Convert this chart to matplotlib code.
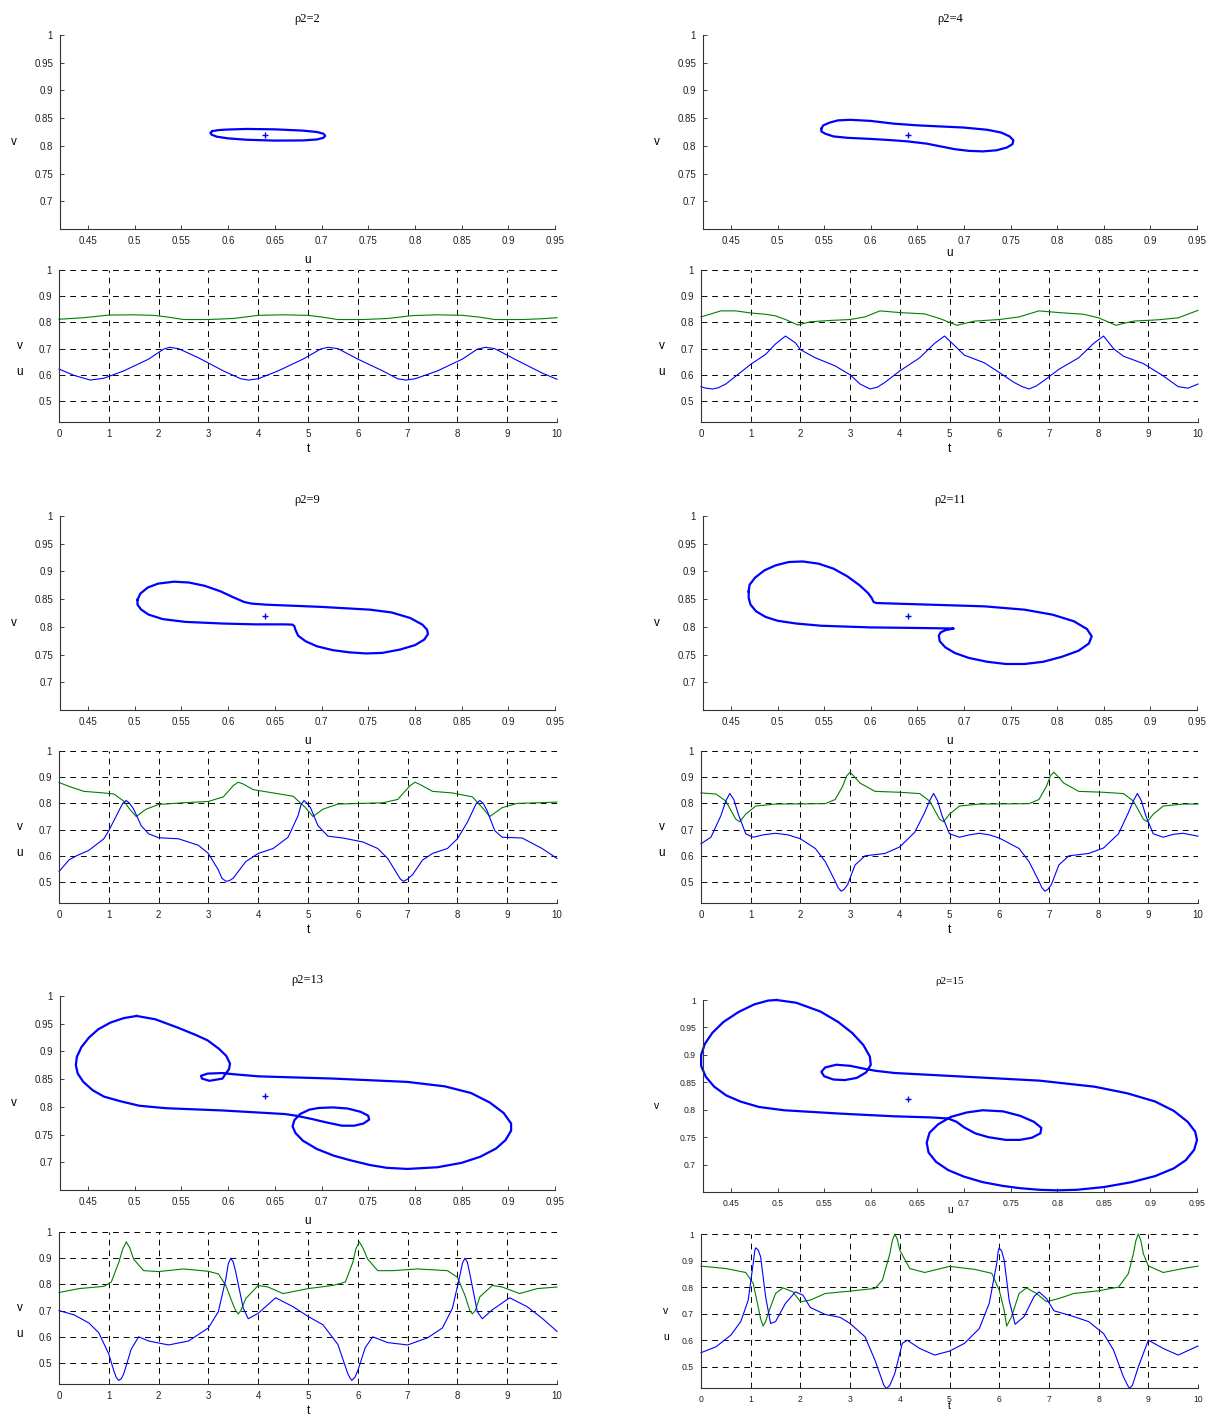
import matplotlib
matplotlib.use('Agg')
import matplotlib.pyplot as plt

W, H = 1211, 1416

rho = [2, 4, 9, 11, 13, 15]

# ---- rho2 = 2 ----
tu_2 = [0, 0.3, 0.63, 0.9, 1.3, 1.8, 2.1, 2.22, 2.4, 2.8, 3.3, 3.65, 3.8, 4.0, 4.4, 4.9, 5.25, 5.4, 5.6, 6.0,
        6.5, 6.8, 6.97, 7.15, 7.6, 8.1, 8.4, 8.57, 8.75, 9.2, 9.7, 10]
u_2 = [0.622, 0.598, 0.580, 0.587, 0.615, 0.660, 0.698, 0.705, 0.700, 0.665, 0.615, 0.585, 0.580, 0.585, 0.615,
       0.660, 0.698, 0.705, 0.700, 0.660, 0.615, 0.585, 0.580, 0.585, 0.615, 0.660, 0.698, 0.705, 0.700, 0.655,
       0.607, 0.583]
tv_2 = [0, 0.5, 1.0, 1.5, 1.9, 2.2, 2.5, 3.0, 3.5, 4.0, 4.5, 5.0, 5.3, 5.6, 6.1, 6.6, 7.1, 7.6, 8.1, 8.45,
        8.75, 9.3, 9.7, 10]
v_2 = [0.812, 0.818, 0.828, 0.829, 0.827, 0.820, 0.811, 0.811, 0.815, 0.827, 0.829, 0.827, 0.820, 0.811, 0.811,
       0.815, 0.826, 0.829, 0.827, 0.820, 0.811, 0.811, 0.814, 0.818]
ph_2 = [(0.583, 0.8265), (0.59, 0.8285), (0.60, 0.8295), (0.62, 0.8305), (0.65, 0.8298), (0.68, 0.8275),
        (0.695, 0.825), (0.702, 0.822), (0.704, 0.818), (0.702, 0.8145), (0.695, 0.8115), (0.68, 0.8098),
        (0.65, 0.8095), (0.62, 0.811), (0.60, 0.8135), (0.588, 0.8165), (0.5825, 0.820), (0.581, 0.8235),
        (0.583, 0.8265)]

# ---- rho2 = 4 ----
tu_4 = [0, 0.1, 0.24, 0.35, 0.5, 0.8, 1.0, 1.3, 1.5, 1.7, 1.9, 2.0, 2.3, 2.7, 3.0, 3.2, 3.4, 3.55, 3.7, 4.0,
        4.4, 4.7, 4.9, 5.1, 5.3, 5.7, 6.0, 6.3, 6.45, 6.6, 6.75, 6.9, 7.2, 7.6, 7.9, 8.1, 8.3, 8.5, 8.9, 9.3,
        9.6, 9.8, 10]
u_4 = [0.555, 0.549, 0.546, 0.551, 0.565, 0.610, 0.640, 0.678, 0.718, 0.748, 0.722, 0.696, 0.665, 0.634, 0.600,
       0.565, 0.546, 0.553, 0.571, 0.615, 0.665, 0.720, 0.748, 0.712, 0.675, 0.646, 0.609, 0.571, 0.556, 0.546,
       0.558, 0.578, 0.621, 0.665, 0.720, 0.748, 0.700, 0.671, 0.643, 0.596, 0.555, 0.549, 0.565]
tv_4 = [0, 0.4, 0.7, 1.0, 1.3, 1.5, 1.7, 1.95, 2.2, 2.6, 3.0, 3.3, 3.6, 4.0, 4.5, 4.8, 5.15, 5.5, 6.0, 6.4,
        6.8, 7.2, 7.7, 8.0, 8.35, 8.7, 9.2, 9.6, 10]
v_4 = [0.821, 0.844, 0.844, 0.836, 0.831, 0.825, 0.811, 0.790, 0.8025, 0.8075, 0.811, 0.821, 0.844, 0.8375,
       0.8325, 0.815, 0.789, 0.805, 0.811, 0.821, 0.844, 0.8375, 0.831, 0.8175, 0.789, 0.805, 0.810, 0.8175, 0.846]
ph_4 = [(0.547, 0.831), (0.549, 0.837), (0.556, 0.842), (0.565, 0.846), (0.578, 0.847), (0.60, 0.845),
        (0.625, 0.840), (0.65, 0.837), (0.70, 0.833), (0.725, 0.829), (0.740, 0.824), (0.749, 0.817),
        (0.753, 0.810), (0.752, 0.803), (0.746, 0.797), (0.735, 0.792), (0.72, 0.790), (0.705, 0.791),
        (0.69, 0.794), (0.675, 0.799), (0.66, 0.804), (0.64, 0.808), (0.62, 0.8105), (0.60, 0.8125),
        (0.575, 0.8145), (0.56, 0.817), (0.551, 0.822), (0.547, 0.826), (0.547, 0.831)]

# ---- rho2 = 9 ----
tu_9 = [0, 0.2, 0.35, 0.6, 0.9, 1.0, 1.2, 1.28, 1.35, 1.42, 1.5, 1.65, 1.8, 2.0, 2.4, 2.8, 3.0, 3.2, 3.27, 3.35,
        3.42, 3.5, 3.75, 4.0, 4.3, 4.6, 4.8, 4.86, 4.92, 4.98, 5.05, 5.2, 5.4, 5.7, 6.1, 6.4, 6.6, 6.8, 6.86,
        6.92, 6.99, 7.1, 7.3, 7.5, 7.8, 8.0, 8.2, 8.38, 8.45, 8.52, 8.6, 8.75, 8.9, 9.3, 9.7, 10]
u_9 = [0.540, 0.584, 0.600, 0.621, 0.665, 0.696, 0.771, 0.800, 0.811, 0.800, 0.778, 0.715, 0.684, 0.669, 0.665,
       0.640, 0.609, 0.546, 0.515, 0.503, 0.505, 0.515, 0.578, 0.609, 0.628, 0.671, 0.753, 0.795, 0.811, 0.800,
       0.784, 0.715, 0.675, 0.668, 0.653, 0.628, 0.590, 0.528, 0.510, 0.503, 0.510, 0.528, 0.584, 0.609, 0.628,
       0.665, 0.728, 0.800, 0.811, 0.800, 0.771, 0.696, 0.671, 0.668, 0.628, 0.590]
tv_9 = [0, 0.2, 0.5, 0.9, 1.1, 1.3, 1.42, 1.55, 1.75, 2.0, 2.5, 3.0, 3.3, 3.5, 3.6, 3.7, 3.9, 4.3, 4.7, 4.95,
        5.1, 5.3, 5.6, 6.5, 6.8, 7.05, 7.15, 7.25, 7.5, 7.9, 8.3, 8.5, 8.65, 8.9, 9.2, 10]
v_9 = [0.880, 0.865, 0.846, 0.840, 0.836, 0.809, 0.778, 0.750, 0.778, 0.796, 0.8025, 0.8075, 0.825, 0.868,
       0.881, 0.874, 0.8525, 0.840, 0.8275, 0.784, 0.750, 0.778, 0.7975, 0.8025, 0.815, 0.868, 0.881, 0.872,
       0.846, 0.840, 0.825, 0.784, 0.750, 0.784, 0.800, 0.805]
ph_9 = [(0.503, 0.849), (0.506, 0.860), (0.514, 0.871), (0.525, 0.878), (0.542, 0.8815), (0.558, 0.880),
        (0.575, 0.874), (0.592, 0.864), (0.606, 0.853), (0.617, 0.845), (0.625, 0.842), (0.641, 0.840),
        (0.70, 0.836), (0.752, 0.831), (0.775, 0.826), (0.795, 0.816), (0.808, 0.804), (0.813, 0.795),
        (0.814, 0.787), (0.81, 0.777), (0.80, 0.767), (0.784, 0.759), (0.765, 0.753), (0.748, 0.752),
        (0.73, 0.754), (0.712, 0.758), (0.695, 0.765), (0.683, 0.774), (0.675, 0.784), (0.672, 0.795),
        (0.671, 0.801), (0.669, 0.804), (0.66, 0.8045), (0.629, 0.8045), (0.594, 0.806), (0.554, 0.809),
        (0.53, 0.814), (0.515, 0.822), (0.507, 0.831), (0.503, 0.840), (0.503, 0.849)]

# ---- rho2 = 11 ----
tu_11 = [0, 0.2, 0.4, 0.5, 0.58, 0.66, 0.75, 0.9, 1.05, 1.25, 1.5, 1.75, 2.0, 2.3, 2.5, 2.7, 2.76, 2.82, 2.88,
         2.95, 3.1, 3.3, 3.7, 4.0, 4.3, 4.5, 4.6, 4.68, 4.76, 4.85, 5.0, 5.2, 5.4, 5.6, 5.8, 6.0, 6.4, 6.6, 6.8,
         6.86, 6.92, 6.98, 7.05, 7.2, 7.4, 7.8, 8.1, 8.4, 8.6, 8.7, 8.78, 8.86, 8.95, 9.1, 9.3, 9.5, 9.7, 10]
u_11 = [0.646, 0.671, 0.753, 0.810, 0.838, 0.815, 0.759, 0.684, 0.671, 0.680, 0.686, 0.680, 0.665, 0.628, 0.578,
        0.503, 0.478, 0.465, 0.472, 0.490, 0.565, 0.600, 0.609, 0.634, 0.690, 0.765, 0.810, 0.838, 0.810, 0.753,
        0.684, 0.671, 0.680, 0.686, 0.680, 0.668, 0.628, 0.578, 0.503, 0.478, 0.465, 0.472, 0.490, 0.565, 0.600,
        0.609, 0.630, 0.684, 0.765, 0.810, 0.838, 0.810, 0.753, 0.684, 0.671, 0.682, 0.686, 0.675]
tv_11 = [0, 0.3, 0.5, 0.7, 0.78, 0.9, 1.1, 1.5, 2.5, 2.7, 2.85, 2.93, 3.0, 3.07, 3.2, 3.5, 4.0, 4.4, 4.6, 4.8,
         4.88, 5.0, 5.2, 5.6, 6.6, 6.8, 6.95, 7.03, 7.1, 7.17, 7.3, 7.6, 8.1, 8.5, 8.7, 8.9, 8.98, 9.1, 9.3,
         9.7, 10]
v_11 = [0.840, 0.836, 0.809, 0.740, 0.730, 0.759, 0.790, 0.7975, 0.799, 0.815, 0.865, 0.905, 0.919, 0.905,
        0.8775, 0.846, 0.8425, 0.8375, 0.809, 0.740, 0.730, 0.759, 0.790, 0.7975, 0.799, 0.815, 0.865, 0.905,
        0.919, 0.905, 0.8775, 0.846, 0.8425, 0.8375, 0.809, 0.740, 0.730, 0.759, 0.790, 0.7975, 0.7975]
ph_11 = [(0.469, 0.864), (0.470, 0.876), (0.476, 0.889), (0.486, 0.902), (0.498, 0.911), (0.512, 0.917),
         (0.527, 0.918), (0.544, 0.914), (0.560, 0.905), (0.575, 0.891), (0.588, 0.875), (0.597, 0.861),
         (0.601, 0.852), (0.603, 0.845), (0.606, 0.843), (0.625, 0.842), (0.664, 0.840), (0.722, 0.837),
         (0.765, 0.831), (0.795, 0.822), (0.818, 0.810), (0.832, 0.796), (0.837, 0.783), (0.834, 0.770),
         (0.823, 0.757), (0.805, 0.746), (0.785, 0.737), (0.765, 0.733), (0.745, 0.733), (0.725, 0.737),
         (0.705, 0.744), (0.69, 0.753), (0.68, 0.763), (0.674, 0.774), (0.673, 0.784), (0.675, 0.790),
         (0.680, 0.794), (0.689, 0.797), (0.65, 0.798), (0.60, 0.799), (0.547, 0.802), (0.52, 0.806),
         (0.50, 0.811), (0.487, 0.818), (0.477, 0.828), (0.471, 0.840), (0.469, 0.852), (0.469, 0.864)]

# ---- rho2 = 13 ----
tu_13 = [0, 0.3, 0.6, 0.8, 1.0, 1.1, 1.15, 1.2, 1.25, 1.3, 1.45, 1.6, 1.8, 2.2, 2.6, 3.0, 3.2, 3.35, 3.4, 3.45,
         3.5, 3.55, 3.7, 3.8, 4.0, 4.35, 4.7, 5.0, 5.3, 5.6, 5.8, 5.84, 5.88, 5.94, 6.0, 6.15, 6.3, 6.6, 7.0,
         7.4, 7.7, 7.9, 8.05, 8.1, 8.15, 8.2, 8.25, 8.4, 8.5, 8.7, 9.05, 9.4, 9.7, 10]
u_13 = [0.700, 0.684, 0.653, 0.615, 0.534, 0.471, 0.445, 0.434, 0.440, 0.459, 0.553, 0.600, 0.584, 0.569, 0.584,
        0.634, 0.696, 0.821, 0.880, 0.900, 0.885, 0.846, 0.709, 0.669, 0.690, 0.749, 0.715, 0.678, 0.646, 0.571,
        0.459, 0.444, 0.434, 0.445, 0.471, 0.559, 0.600, 0.578, 0.569, 0.596, 0.634, 0.709, 0.834, 0.880, 0.900,
        0.885, 0.840, 0.696, 0.669, 0.703, 0.749, 0.715, 0.671, 0.621]
tv_13 = [0, 0.4, 0.9, 1.05, 1.2, 1.28, 1.35, 1.42, 1.5, 1.7, 2.0, 2.5, 3.0, 3.2, 3.35, 3.5, 3.55, 3.6, 3.65,
         3.75, 4.0, 4.2, 4.5, 5.0, 5.5, 5.75, 5.9, 5.96, 6.03, 6.1, 6.2, 6.4, 6.7, 7.2, 7.8, 8.0, 8.15, 8.25,
         8.3, 8.36, 8.45, 8.7, 8.9, 9.25, 9.6, 10]
v_13 = [0.769, 0.784, 0.7925, 0.809, 0.884, 0.935, 0.9625, 0.940, 0.896, 0.8525, 0.849, 0.859, 0.850, 0.840,
        0.796, 0.721, 0.700, 0.6875, 0.700, 0.746, 0.796, 0.790, 0.765, 0.784, 0.796, 0.809, 0.884, 0.935,
        0.9625, 0.940, 0.896, 0.8525, 0.8525, 0.859, 0.8525, 0.8275, 0.759, 0.700, 0.6875, 0.700, 0.7525,
        0.796, 0.790, 0.765, 0.784, 0.790]
ph_13 = [(0.502, 0.964), (0.522, 0.958), (0.546, 0.943), (0.565, 0.930), (0.578, 0.920), (0.590, 0.905),
         (0.598, 0.892), (0.602, 0.878), (0.601, 0.868), (0.597, 0.859), (0.594, 0.851), (0.58, 0.847),
         (0.572, 0.851), (0.571, 0.856), (0.578, 0.860), (0.594, 0.861), (0.605, 0.859), (0.633, 0.855),
         (0.713, 0.851), (0.792, 0.845), (0.832, 0.837), (0.860, 0.825), (0.880, 0.808), (0.895, 0.789),
         (0.903, 0.770), (0.903, 0.757), (0.897, 0.740), (0.887, 0.725), (0.870, 0.710), (0.850, 0.699),
         (0.824, 0.691), (0.792, 0.688), (0.770, 0.690), (0.752, 0.695), (0.730, 0.704), (0.713, 0.712),
         (0.695, 0.724), (0.680, 0.739), (0.672, 0.753), (0.669, 0.765), (0.671, 0.776), (0.677, 0.787),
         (0.687, 0.795), (0.697, 0.798), (0.712, 0.799), (0.728, 0.797), (0.742, 0.791), (0.750, 0.784),
         (0.751, 0.777), (0.745, 0.770), (0.735, 0.766), (0.722, 0.766), (0.705, 0.772), (0.690, 0.778),
         (0.673, 0.784), (0.661, 0.787), (0.594, 0.7935), (0.534, 0.7975), (0.505, 0.802), (0.485, 0.810),
         (0.467, 0.8185), (0.455, 0.830), (0.445, 0.845), (0.439, 0.860), (0.437, 0.875), (0.438, 0.890),
         (0.443, 0.908), (0.451, 0.925), (0.461, 0.940), (0.474, 0.952), (0.488, 0.960), (0.502, 0.964)]

# ---- rho2 = 15 ----
tu_15 = [0, 0.3, 0.6, 0.8, 0.95, 1.05, 1.08, 1.1, 1.15, 1.2, 1.3, 1.4, 1.5, 1.7, 1.9, 2.05, 2.2, 2.5, 2.8, 3.0,
         3.3, 3.5, 3.68, 3.73, 3.8, 3.9, 4.05, 4.15, 4.4, 4.7, 5.0, 5.3, 5.6, 5.8, 5.95, 5.98, 6.0, 6.05, 6.1,
         6.2, 6.32, 6.5, 6.7, 6.8, 6.95, 7.1, 7.5, 7.8, 8.1, 8.3, 8.5, 8.57, 8.62, 8.68, 8.8, 9.0, 9.3, 9.6, 10]
u_15 = [0.553, 0.575, 0.619, 0.670, 0.751, 0.889, 0.935, 0.948, 0.940, 0.914, 0.764, 0.663, 0.670, 0.739, 0.782,
        0.770, 0.723, 0.697, 0.686, 0.663, 0.613, 0.525, 0.430, 0.418, 0.430, 0.475, 0.588, 0.600, 0.569, 0.544,
        0.559, 0.588, 0.644, 0.739, 0.889, 0.935, 0.948, 0.935, 0.902, 0.751, 0.660, 0.689, 0.764, 0.782, 0.757,
        0.711, 0.689, 0.670, 0.625, 0.563, 0.462, 0.435, 0.418, 0.430, 0.500, 0.600, 0.569, 0.544, 0.578]
tv_15 = [0, 0.5, 0.9, 1.05, 1.15, 1.2, 1.25, 1.3, 1.35, 1.5, 1.65, 1.85, 2.0, 2.2, 2.5, 3.0, 3.5, 3.65, 3.8,
         3.85, 3.9, 3.95, 4.0, 4.2, 4.5, 5.0, 5.5, 5.85, 6.0, 6.1, 6.15, 6.25, 6.4, 6.55, 6.75, 6.95, 7.2, 7.5,
         8.0, 8.4, 8.6, 8.7, 8.75, 8.8, 8.85, 8.9, 9.0, 9.3, 9.7, 10]
v_15 = [0.879, 0.870, 0.855, 0.814, 0.726, 0.680, 0.653, 0.670, 0.700, 0.776, 0.797, 0.782, 0.745, 0.751, 0.776,
        0.785, 0.795, 0.826, 0.926, 0.975, 1.0, 0.980, 0.939, 0.870, 0.855, 0.878, 0.867, 0.852, 0.789, 0.713,
        0.653, 0.689, 0.776, 0.797, 0.776, 0.745, 0.757, 0.776, 0.786, 0.800, 0.851, 0.926, 0.975, 1.0, 0.975,
        0.926, 0.880, 0.855, 0.870, 0.879]
ph_15 = [(0.499, 1.0), (0.52, 0.995), (0.546, 0.979), (0.565, 0.960), (0.580, 0.940), (0.592, 0.918),
         (0.599, 0.897), (0.600, 0.882), (0.595, 0.868), (0.585, 0.858), (0.572, 0.854), (0.560, 0.855),
         (0.550, 0.861), (0.547, 0.869), (0.551, 0.877), (0.563, 0.882), (0.578, 0.880), (0.592, 0.875),
         (0.605, 0.871), (0.625, 0.867), (0.703, 0.860), (0.781, 0.853), (0.840, 0.842), (0.875, 0.830),
         (0.905, 0.815), (0.925, 0.798), (0.940, 0.778), (0.948, 0.760), (0.950, 0.745), (0.947, 0.727),
         (0.938, 0.708), (0.925, 0.693), (0.905, 0.679), (0.880, 0.668), (0.850, 0.659), (0.821, 0.654),
         (0.800, 0.653), (0.781, 0.654), (0.760, 0.657), (0.742, 0.661), (0.720, 0.668), (0.700, 0.678),
         (0.683, 0.690), (0.670, 0.705), (0.662, 0.722), (0.660, 0.740), (0.663, 0.758), (0.672, 0.773),
         (0.686, 0.787), (0.703, 0.795), (0.720, 0.799), (0.742, 0.797), (0.760, 0.789), (0.775, 0.778),
         (0.783, 0.767), (0.782, 0.757), (0.773, 0.749), (0.760, 0.745), (0.745, 0.745), (0.726, 0.750),
         (0.712, 0.757), (0.700, 0.768), (0.692, 0.778), (0.683, 0.784), (0.664, 0.786), (0.625, 0.788),
         (0.566, 0.793), (0.507, 0.799), (0.480, 0.805), (0.460, 0.815), (0.445, 0.826), (0.432, 0.842),
         (0.423, 0.860), (0.418, 0.880), (0.418, 0.900), (0.422, 0.920), (0.430, 0.940), (0.442, 0.960),
         (0.458, 0.978), (0.475, 0.992), (0.490, 0.999), (0.499, 1.0)]

eq_u, eq_v = 0.64, 0.82

series = {
    2: (tu_2, u_2, tv_2, v_2, ph_2),
    4: (tu_4, u_4, tv_4, v_4, ph_4),
    9: (tu_9, u_9, tv_9, v_9, ph_9),
    11: (tu_11, u_11, tv_11, v_11, ph_11),
    13: (tu_13, u_13, tv_13, v_13, ph_13),
    15: (tu_15, u_15, tv_15, v_15, ph_15),
}

phase_xt = [0.45, 0.5, 0.55, 0.6, 0.65, 0.7, 0.75, 0.8, 0.85, 0.9, 0.95]
phase_yt = [0.7, 0.75, 0.8, 0.85, 0.9, 0.95, 1.0]
time_xt = list(range(11))
time_yt = [0.5, 0.6, 0.7, 0.8, 0.9, 1.0]

BLUE = '#0000ff'
GREEN = '#008000'
SANS = 'Liberation Sans'
SERIF = 'Liberation Serif'

fig = plt.figure(figsize=(W / 100, H / 100), dpi=100)


def px_axes(x0, y0, x1, y1):
    return fig.add_axes([x0 / W, 1 - y1 / H, (x1 - x0) / W, (y1 - y0) / H])


def px_text(x, y, s, size=8.5, family=SANS):
    fig.text(x / W, 1 - y / H, s, ha='center', va='center', fontsize=size, family=family)


def style(ax, fs):
    for s in ['top', 'right']:
        ax.spines[s].set_visible(False)
    for s in ['left', 'bottom']:
        ax.spines[s].set_linewidth(0.8)
        ax.spines[s].set_color('#333333')
    ax.tick_params(direction='in', length=3, width=0.6, labelsize=fs, pad=5, colors='#222222')
    for lab in ax.get_xticklabels() + ax.get_yticklabels():
        lab.set_family(SANS)


def fmt(v):
    return f'{v:g}'


# layout, in pixels of the reference image
col_phase_x = [(60, 555), (703, 1197)]
col_time_x = [(59, 557), (701, 1198)]
row_phase_y = [(35, 229), (516, 710), (996, 1190)]
row_time_y = [(270, 422), (751, 903), (1232, 1384)]

for i, r in enumerate(rho):
    row, col = divmod(i, 2)
    tu, u, tv, v, ph = series[r]
    pu = [p[0] for p in ph]
    pv = [p[1] for p in ph]
    last = (row == 2 and col == 1)
    fs = 6.2 if last else 7
    ls = 7.5 if last else 8.5

    # phase portrait
    px0, px1 = col_phase_x[col]
    py0, py1 = (1000, 1192) if last else row_phase_y[row]
    ax = px_axes(px0, py0, px1, py1)
    ax.plot(pu, pv, color=BLUE, lw=1.6, clip_on=False)
    ax.plot([eq_u], [eq_v], marker='+', color=BLUE, ms=5, mew=1.0)
    ax.set_xlim(0.42, 0.95)
    ax.set_ylim(0.65, 1.0)
    ax.set_xticks(phase_xt)
    ax.set_xticklabels([fmt(x) for x in phase_xt])
    ax.set_yticks(phase_yt)
    ax.set_yticklabels([fmt(y) for y in phase_yt])
    style(ax, fs)
    cx = (px0 + px1) / 2
    px_text(cx, py0 - (18 if last else 16), f'\u03c12={r}', size=8 if last else 9, family=SERIF)
    if last:
        ux = py1 + 18
    elif row == 0 and col == 1:
        ux = py1 + 24
    else:
        ux = py1 + 31
    px_text(cx, ux, 'u', size=ls)
    px_text(px0 - 46, (py0 + py1) / 2 + 10, 'v', size=ls)

    # time series
    tx0, tx1 = col_time_x[col]
    ty0, ty1 = (1234, 1388) if last else row_time_y[row]
    ax = px_axes(tx0, ty0, tx1, ty1)
    ax.plot(tv, v, color=GREEN, lw=0.8, clip_on=False)
    ax.plot(tu, u, color=BLUE, lw=0.8, clip_on=False)
    ax.set_xlim(0, 10)
    ax.set_ylim(0.42, 1.0)
    ax.set_xticks(time_xt)
    ax.set_xticklabels([fmt(x) for x in time_xt])
    ax.set_yticks(time_yt)
    ax.set_yticklabels([fmt(y) for y in time_yt])
    ax.grid(True, color='black', linestyle=(0, (6, 5)), linewidth=0.7)
    ax.set_axisbelow(True)
    style(ax, fs)
    cx = (tx0 + tx1) / 2
    h = ty1 - ty0
    px_text(cx, ty1 + (18 if last else 27), 't', size=ls)
    px_text(tx0 - 39 + (4 if last else 0), ty1 - 0.5 * h, 'v', size=ls)
    px_text(tx0 - 39 + (4 if last else 0), ty1 - 0.33 * h, 'u', size=ls)

fig.savefig('out.png', dpi=100)
